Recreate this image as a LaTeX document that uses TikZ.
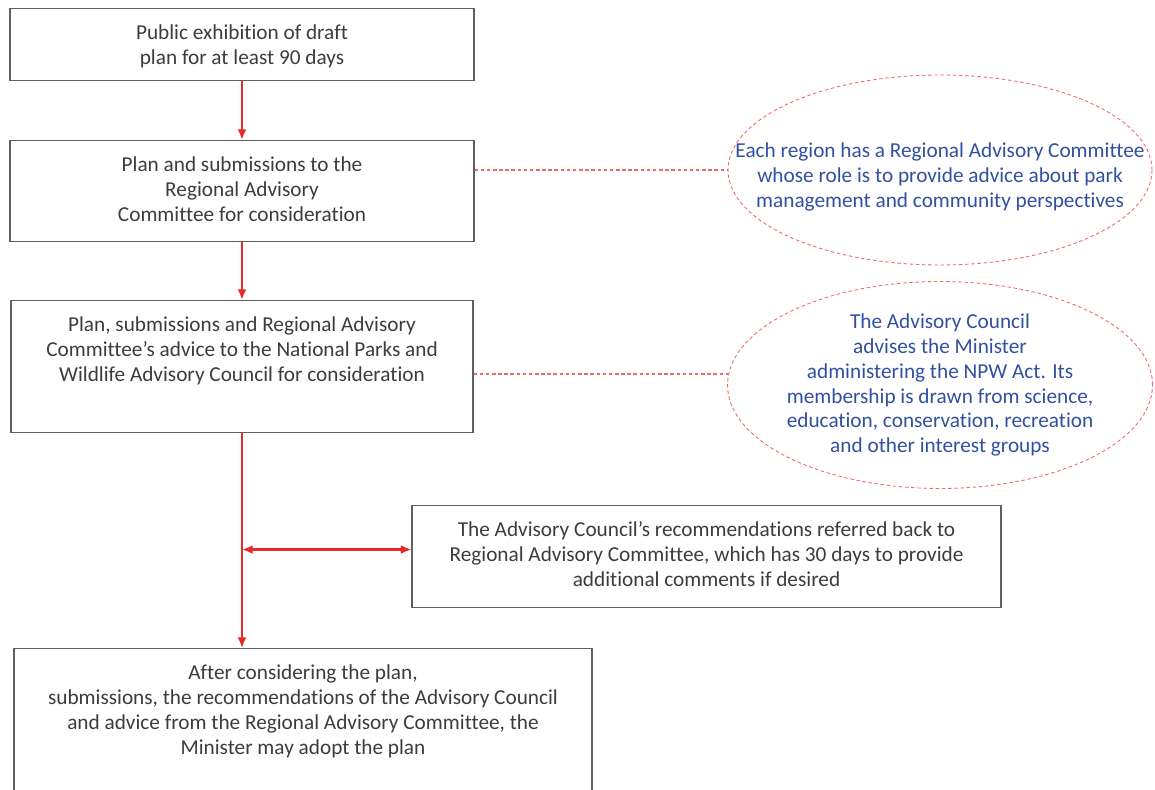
\documentclass[tikz,border=0pt]{standalone}
\usepackage{fontspec}
\setmainfont{Carlito}[Ligatures={TeX,NoCommon}]
\usetikzlibrary{shapes.geometric,arrows.meta,positioning}
\definecolor{boxgrey}{RGB}{95,95,95}
\definecolor{textgrey}{RGB}{60,60,60}
\definecolor{flowred}{RGB}{232,40,40}
\definecolor{linkred}{RGB}{240,105,105}
\definecolor{noteblue}{RGB}{50,80,160}
% fixed-size box text, first line set a fixed distance from the top
\newcommand{\stagetext}[3]{\parbox[c][#1][t]{#2}{\centering\vspace*{7.5pt}\strut #3}}

\begin{document}
\begin{tikzpicture}[
    stage/.style={rectangle, draw=boxgrey, line width=0.6pt, inner sep=0pt, anchor=north,
                  text=textgrey, font=\fontsize{12.1}{14.2}\selectfont},
    note/.style={ellipse, draw=linkred, line width=0.5pt, dash pattern=on 2pt off 1.5pt,
                 inner sep=0pt},
    notetext/.style={text=noteblue, align=center, inner sep=0pt,
                     font=\fontsize{12.1}{14.2}\selectfont},
    flow/.style={->, >={Latex[length=6pt,width=5pt]}, flowred, line width=1.4pt},
    link/.style={draw=linkred, line width=0.7pt, dash pattern=on 2pt off 1.5pt}]
\useasboundingbox (0,0) rectangle (23.1,15.78);
% main stages
\node[stage] (exhibit) at (4.84,15.62) {\stagetext{1.44cm}{9.28cm}{Public exhibition of draft\\ plan for at least 90 days}};
\node[stage] (rac) at (4.84,12.98) {\stagetext{2.02cm}{9.28cm}{Plan and submissions to the\\ Regional Advisory\\ Committee for consideration}};
\node[stage] (council) at (4.84,9.78) {\stagetext{2.64cm}{9.24cm}{Plan, submissions and Regional Advisory\\ Committee’s advice to the National Parks and\\ Wildlife Advisory Council for consideration}};
\node[stage] (review) at (14.13,5.68) {\stagetext{2.04cm}{11.78cm}{The Advisory Council’s recommendations referred back to\\ Regional Advisory Committee, which has 30 days to provide\\ additional comments if desired}};
\node[stage] (minister) at (6.06,2.82) {\stagetext{3.2cm}{11.56cm}{After considering the plan,\\ submissions, the recommendations of the Advisory Council\\ and advice from the Regional Advisory Committee, the\\ Minister may adopt the plan}};
% side notes
\node[note, minimum width=8.48cm, minimum height=3.8cm] (ell1) at (18.8,12.38) {};
\node[notetext] (ell1txt) at (18.8,12.24) {Each region has a Regional Advisory Committee\\ whose role is to provide advice about park\\ management and community perspectives};
\node[note, minimum width=8.5cm, minimum height=4.14cm] (ell2) at (18.8,8.08) {};
\node[notetext] (ell2txt) at (ell2) {The Advisory Council\\ advises the Minister\\ administering the NPW Act. Its\\ membership is drawn from science,\\ education, conservation, recreation\\ and other interest groups};
% flow arrows
\draw[flow] (exhibit) -- (rac);
\draw[flow] (rac) -- (council);
\draw[flow] (council.south) -- (council.south |- minister.north);
\path ([yshift=0.14cm]review.west) coordinate (reviewin);
\coordinate (fork) at (council.south |- reviewin);
\draw[flow, <->] (fork) -- (reviewin);
% dashed links to the notes
\draw[link] (ell1.west -| rac.east) -- (ell1.west);
\draw[link] (ell2.177 -| council.east) -- (ell2.177);
\end{tikzpicture}
\end{document}
